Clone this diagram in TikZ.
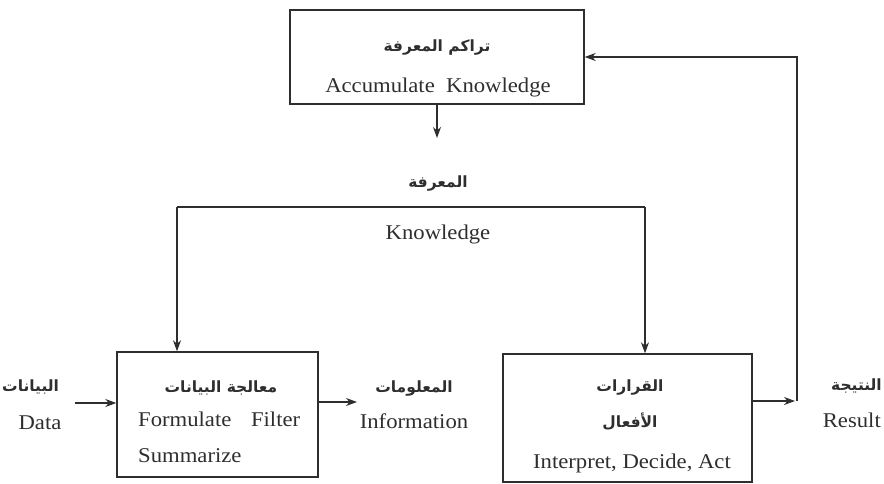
\documentclass[tikz,border=0pt]{standalone}
\usepackage{fontspec}
\setmainfont{Liberation Serif}[FakeStretch=1.08]
\newfontfamily\arabicfont[Script=Arabic]{DejaVu Sans}
\TeXXeTstate=1
\usetikzlibrary{arrows.meta}
\definecolor{ink}{HTML}{2E2E2E}
\tikzset{
  blockbox/.style={draw=ink, line width=1.4pt, rectangle, inner sep=0pt},
  flow/.style={draw=ink, line width=1.1pt, -{Stealth[length=11pt,width=8pt,inset=3.5pt]}},
  wire/.style={draw=ink, line width=1.1pt},
  entxt/.style={text=ink, font=\fontsize{21}{25}\selectfont, inner sep=0pt, anchor=base},
  artxt/.style={text=ink, font=\arabicfont\bfseries\fontsize{15.5}{18}\selectfont, inner sep=0pt, anchor=base},
}
\newcommand{\ar}[1]{\beginR #1\endR}
\begin{document}
\begin{tikzpicture}[x=1pt,y=-1pt]
\useasboundingbox (0,0) rectangle (884,484);

% boxes
\node[blockbox, minimum width=294pt, minimum height=94pt] (accum) at (437,57) {};
\node[blockbox, minimum width=201pt, minimum height=125pt] (proc) at (217.5,414.5) {};
\node[blockbox, minimum width=249pt, minimum height=128pt] (decide) at (627.5,418) {};

% texts of the top box
\node[artxt] (accumAr) at (437,52) {\ar{تراكم المعرفة}};
\node[entxt] (accumEn) at (438,93) {Accumulate\ \ Knowledge};

% knowledge labels
\node[artxt] (knowAr) at (438,188) {\ar{المعرفة}};
\node[entxt] (knowEn) at (438,240) {Knowledge};

% processing box
\node[artxt] (procAr) at (221,392) {\ar{معالجة البيانات}};
\node[entxt, anchor=base west] (procEn1) at (138,426) {\hbox to 162pt{Formulate\hfill Filter}};
\node[entxt, anchor=base west] (procEn2) at (138,462) {Summarize};

% data / information
\node[artxt, anchor=base west] (dataAr) at (2,391) {\ar{البيانات}};
\node[entxt] (dataEn) at (40,429) {Data};
\node[artxt] (infoAr) at (414,392) {\ar{المعلومات}};
\node[entxt] (infoEn) at (414,428) {Information};

% decision box
\node[artxt] (decAr1) at (630,391) {\ar{القرارات}};
\node[artxt] (decAr2) at (630,427) {\ar{الأفعال}};
\node[entxt] (decEn) at (632,468) {Interpret, Decide, Act};

% result
\node[artxt, anchor=base east] (resAr) at (882,390) {\ar{النتيجة}};
\node[entxt, anchor=base east] (resEn) at (881,427) {Result};

% connector points
\coordinate (kTip) at (437,138);
\coordinate (busL) at (177,207);
\coordinate (busR) at (645,207);
\coordinate (dataIn) at (75,403);
\coordinate (infoOut) at (357,402);
\coordinate (resTip) at (795,401);
\coordinate (loop) at (797,401);

% connectors
\draw[flow] (accum.south) -- (kTip);
\draw[wire] (busL) -- (busR);
\draw[flow] (busL) -- (busL |- proc.north);
\draw[flow] (busR) -- (busR |- decide.north);
\draw[flow] (dataIn) -- (proc.west |- dataIn);
\draw[flow] (proc.east |- infoOut) -- (infoOut);
\draw[flow] (decide.east |- resTip) -- (resTip);
\draw[flow] (loop) -- (loop |- accum.east) -- (accum.east);
\end{tikzpicture}
\end{document}
